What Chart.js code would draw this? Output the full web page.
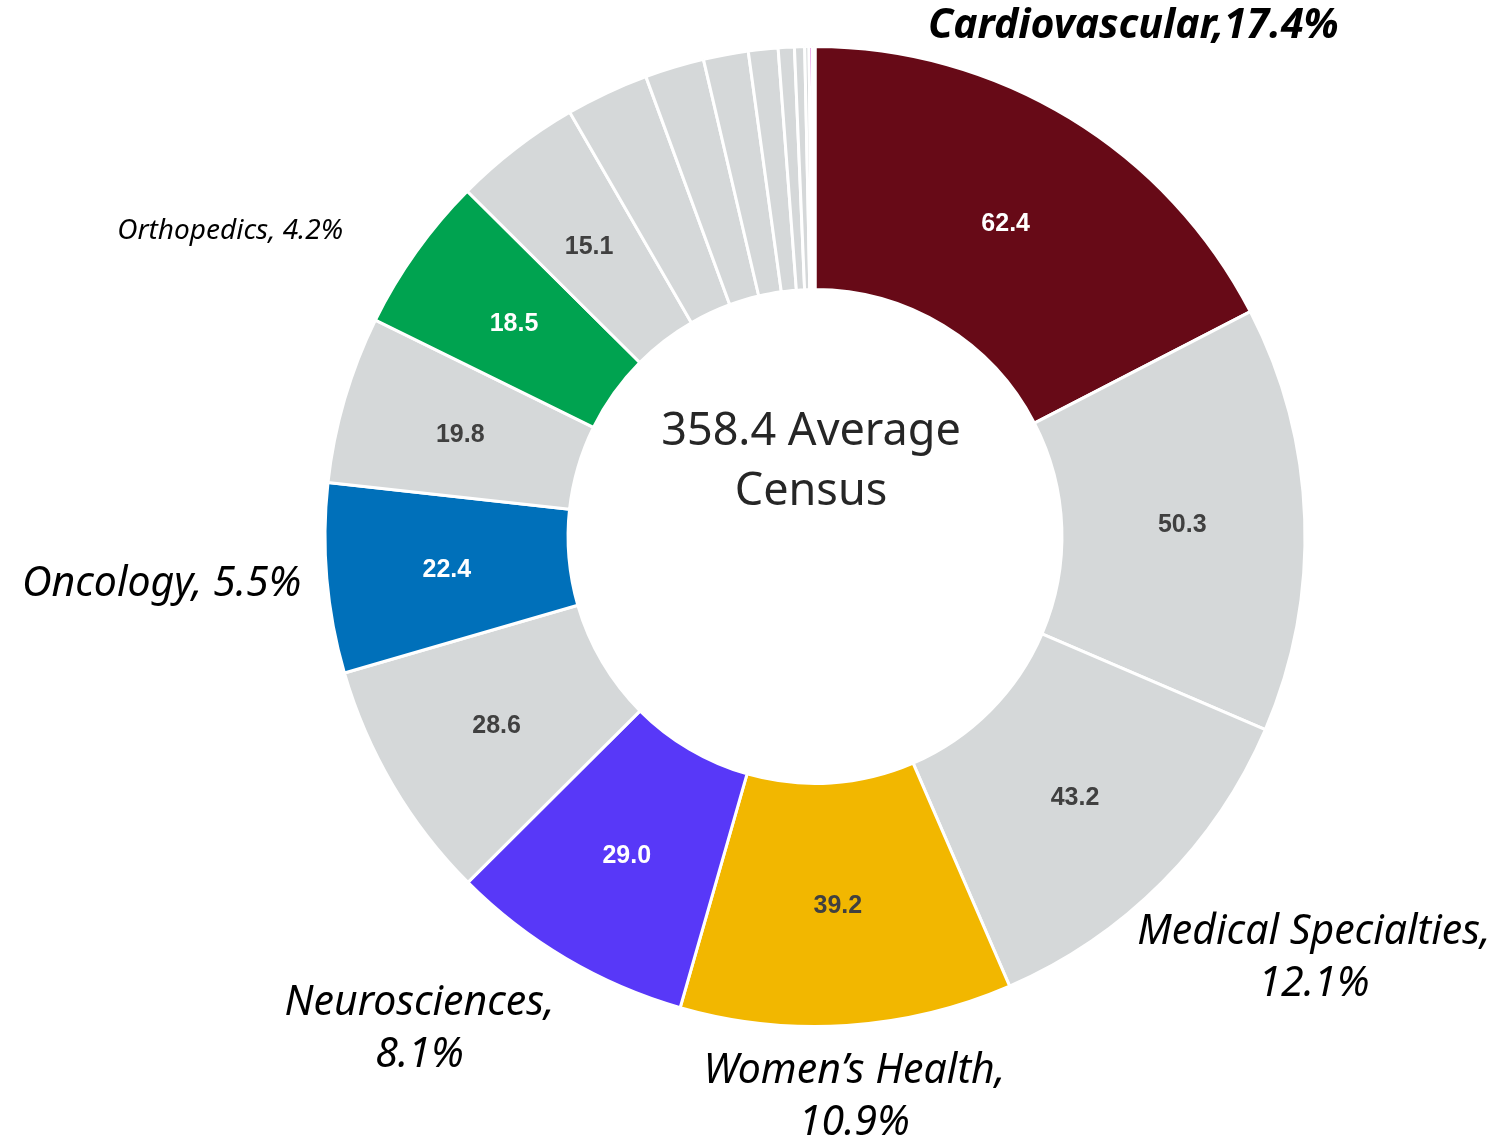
<!DOCTYPE html>
<html>
<head>
<meta charset="utf-8">
<script src="https://cdn.jsdelivr.net/npm/chart.js@4.4.1/dist/chart.umd.min.js"></script>
<style>
  html, body { margin: 0; padding: 0; background: #fff; }
  #wrap { width: 1507px; height: 1144px; position: relative; }
</style>
</head>
<body>
<div id="wrap"><canvas id="censusChart"></canvas></div>
<script>
// service lines, clockwise from 12 o'clock
var categories = ['Cardiovascular', 'Other 1', 'Medical Specialties', "Women's Health", 'Neurosciences',
    'Other 2', 'Oncology', 'Other 3', 'Orthopedics', 'Other 4', 'Other 5', 'Other 6', 'Other 7',
    'Other 8', 'Other 9', 'Other 10', 'Other 11', 'Other 12', 'Other 13'];
var census = [62.4, 50.3, 43.2, 39.2, 29.0, 28.6, 22.4, 19.8, 18.5, 15.1, 9.8, 7.0, 5.3, 3.5, 1.9, 1.2, 0.5, 0.4, 0.3];
var sliceColors = ['#670A17', '#D5D8D9', '#D5D8D9', '#F2B700', '#5838F8', '#D5D8D9', '#0070BA', '#D5D8D9',
    '#00A350', '#D5D8D9', '#D5D8D9', '#D5D8D9', '#D5D8D9', '#D5D8D9', '#D5D8D9', '#D5D8D9', '#D5D8D9',
    '#D63BD0', '#8FD46A'];
var valueColors = ['#fff', '#404040', '#404040', '#404040', '#fff', '#404040', '#fff', '#404040', '#fff', '#404040'];

// outer callouts (text lines) and how far out / how much they're nudged
var calloutText = {
    0: ['Cardiovascular,17.4%'],
    2: ['Medical Specialties,', '12.1%'],
    3: ['Women\u2019s Health,', '10.9%'],
    4: ['Neurosciences,', '8.1%'],
    6: ['Oncology, 5.5%'],
    8: ['Orthopedics, 4.2%']
};
var calloutPos = {
    0: { k: 1.228, da: 0.6, font: 'italic bold 41px "Noto Sans"' },
    2: { k: 1.333, da: -4.7, font: 'italic 41px "Noto Sans"' },
    3: { k: 1.147, da: -0.3, font: 'italic 41px "Noto Sans"' },
    4: { k: 1.29, da: 8.2, font: 'italic 41px "Noto Sans"' },
    6: { k: 1.337, da: 0.7, font: 'italic 41px "Noto Sans"' },
    8: { k: 1.347, da: -7.9, font: 'italic 28px "Noto Sans"' }
};
var total = census.reduce(function (a, b) { return a + b; }, 0);

var labelPlugin = {
    id: 'labelPlugin',
    afterDatasetsDraw: function (chart) {
        var ctx = chart.ctx;
        var meta = chart.getDatasetMeta(0);
        ctx.save();
        ctx.textAlign = 'center';
        ctx.textBaseline = 'middle';

        // numbers inside the slices
        ctx.font = 'bold 25px "Liberation Sans", Arial';
        meta.data.forEach(function (arc, i) {
            if (!valueColors[i]) return;
            var p = arc.tooltipPosition();
            ctx.fillStyle = valueColors[i];
            ctx.fillText(census[i].toFixed(1), p.x - 1, p.y + 2);
        });

        // callouts outside
        ctx.fillStyle = '#000';
        Object.keys(calloutText).forEach(function (key) {
            var i = +key;
            var arc = meta.data[i];
            var cfg = calloutPos[i];
            var a = (arc.startAngle + arc.endAngle) / 2 + cfg.da * Math.PI / 180;
            var r = arc.outerRadius * cfg.k;
            var x = arc.x + Math.cos(a) * r;
            var y = arc.y + Math.sin(a) * r;
            var lines = calloutText[i];
            ctx.font = cfg.font;
            var lh = 52;
            lines.forEach(function (t, j) {
                ctx.fillText(t, x, y + (j - (lines.length - 1) / 2) * lh);
            });
        });

        // centre text
        ctx.fillStyle = '#262626';
        var c = meta.data[0];
        ctx.font = '45px "Noto Sans"';
        ctx.fillText(total.toFixed(1) + ' Average', c.x - 4, c.y - 104);
        ctx.fillText('Census', c.x - 4, c.y - 44);
        ctx.restore();
    }
};

var doughnutConfig = {
    type: 'doughnut',
    data: {
        labels: categories,
        datasets: [{
            data: census,
            backgroundColor: sliceColors,
            borderColor: '#fff',
            borderWidth: 3
        }]
    },
    options: {
        responsive: true,
        maintainAspectRatio: false,
        animation: false,
        cutout: '50.4%',
        layout: { padding: { left: 323, right: 200, top: 45, bottom: 116 } },
        plugins: {
            legend: { display: false },
            tooltip: { enabled: false }
        }
    },
    plugins: [labelPlugin]
};

var censusChart = new Chart(document.getElementById('censusChart'), doughnutConfig);
</script>
</body>
</html>
